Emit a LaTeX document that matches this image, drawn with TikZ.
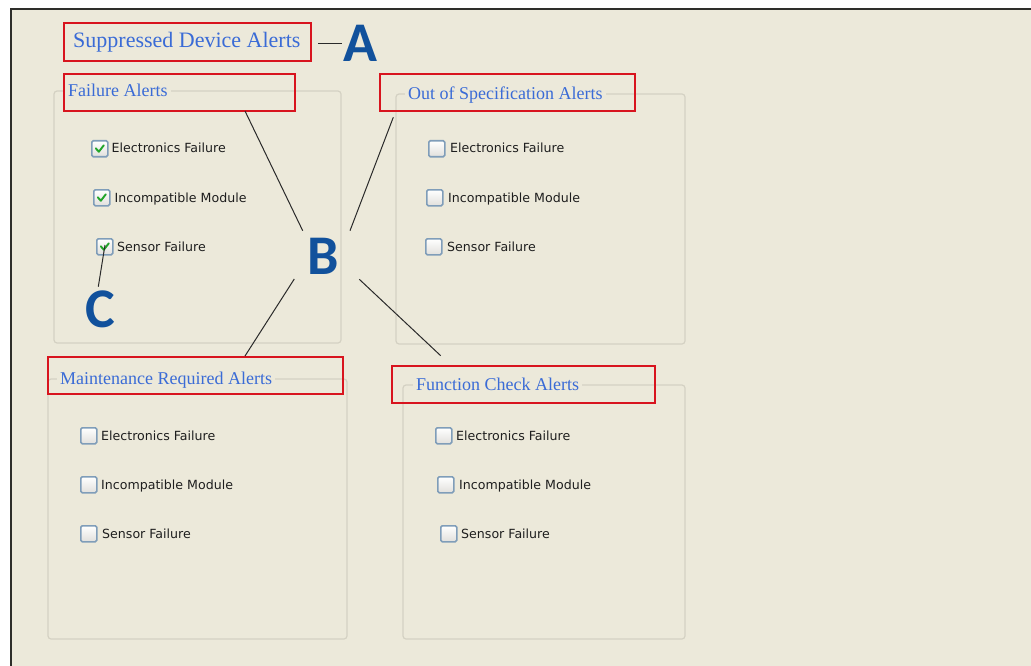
\documentclass[tikz,border=0pt]{standalone}
\usepackage{fontspec}
\setmainfont{Liberation Serif}
\newfontfamily\uifont{DejaVu Sans}
\newfontfamily\letterfont{Carlito}
\definecolor{bgc}{HTML}{ECE9DA}
\definecolor{framec}{HTML}{2E2E2A}
\definecolor{titleblue}{HTML}{3A6BD6}
\definecolor{letterblue}{HTML}{11519C}
\definecolor{redc}{HTML}{D8141E}
\definecolor{groupc}{HTML}{D4D1C3}
\definecolor{cbborder}{HTML}{7F9DB9}
\definecolor{cbfill}{HTML}{F2F1EC}
\definecolor{checkc}{HTML}{22A52A}
\definecolor{labelc}{HTML}{1E1E1E}
\definecolor{linec}{HTML}{2A2A2A}
\tikzset{
  groupbox/.style={draw=groupc, line width=1.2pt, rounded corners=3pt},
  redbox/.style={draw=redc, line width=2pt, inner sep=0pt, outer sep=0pt, anchor=north west},
  grouptitle/.style={anchor=base west, fill=bgc, inner xsep=3pt, inner ysep=0pt, text=titleblue, font=\fontsize{18}{18}\selectfont},
  cbox/.style={draw=cbborder, line width=1.6pt, top color=white, bottom color=cbfill!85!gray, rounded corners=1.5pt, minimum width=16pt, minimum height=16pt, inner sep=0pt, anchor=north west},
  cblabel/.style={anchor=base west, inner sep=0pt, text=labelc, font=\uifont\fontsize{12.6}{12.6}\selectfont},
  checkmark/.style={draw=checkc, line width=1.9pt, line cap=round, line join=round},
  letter/.style={text=letterblue, inner sep=0pt, font=\letterfont\bfseries\fontsize{56}{56}\selectfont},
  conn/.style={draw=linec, line width=1pt}
}
\begin{document}
\begin{tikzpicture}[x=1pt,y=-1pt]
\useasboundingbox (0,0) rectangle (1031,666);
\fill[white] (0,0) rectangle (1031,666);
\fill[bgc] (11,9) rectangle (1040,680);
\draw[framec, line width=2.5pt] (11,680) -- (11,9) -- (1040,9);

% group boxes
\draw[groupbox] (54,91) rectangle (341,343);
\draw[groupbox] (396,94) rectangle (685,344);
\draw[groupbox] (48,379) rectangle (347,639);
\draw[groupbox] (403,385) rectangle (685,639);

% group titles
\node[grouptitle] (tFail) at (65,96.5) {Failure Alerts};
\node[grouptitle] (tSpec) at (405,100) {Out of Specification Alerts};
\node[grouptitle] (tMaint) at (57,384.5) {Maintenance Required Alerts};
\node[grouptitle] (tFunc) at (413,390.5) {Function Check Alerts};

% main title
\node[anchor=base west, inner sep=0pt, text=titleblue, font=\fontsize{22}{22}\selectfont] (tMain) at (73,47.5) {Suppressed Device Alerts};

% red boxes
\node[redbox, minimum width=247pt, minimum height=38pt] (rMain) at (64,23) {};
\node[redbox, minimum width=231pt, minimum height=37pt] (rFail) at (64,74) {};
\node[redbox, minimum width=255pt, minimum height=37pt] (rSpec) at (380,74.5) {};
\node[redbox, minimum width=295pt, minimum height=37pt] (rMaint) at (48,357) {};
\node[redbox, minimum width=263pt, minimum height=37pt] (rFunc) at (392,366) {};

% checkboxes: Failure Alerts (checked)
\node[cbox] (f1) at (91,140) {};
\node[cbox] (f2) at (93,189) {};
\node[cbox] (f3) at (96,238) {};
\foreach \c in {f1,f2,f3}{
  \draw[checkmark] ([xshift=-4pt,yshift=0.5pt]\c.center) -- ([xshift=-1pt,yshift=-3pt]\c.center) -- ([xshift=4pt,yshift=3.5pt]\c.center);
}
\node[cblabel] (f1l) at (111.5,153) {Electronics Failure};
\node[cblabel] (f2l) at (114.5,202) {Incompatible Module};
\node[cblabel] (f3l) at (117,251) {Sensor Failure};

% Out of Specification
\node[cbox] (s1) at (428,140) {};
\node[cbox] (s2) at (426,189) {};
\node[cbox] (s3) at (425,238) {};
\node[cblabel] (s1l) at (450,153) {Electronics Failure};
\node[cblabel] (s2l) at (448,202) {Incompatible Module};
\node[cblabel] (s3l) at (447,251) {Sensor Failure};

% Maintenance Required
\node[cbox] (m1) at (80,427) {};
\node[cbox] (m2) at (80,476) {};
\node[cbox] (m3) at (80,525) {};
\node[cblabel] (m1l) at (101,440) {Electronics Failure};
\node[cblabel] (m2l) at (101,489) {Incompatible Module};
\node[cblabel] (m3l) at (102,538) {Sensor Failure};

% Function Check
\node[cbox] (c1) at (435,427) {};
\node[cbox] (c2) at (437,476) {};
\node[cbox] (c3) at (440,525) {};
\node[cblabel] (c1l) at (456,440) {Electronics Failure};
\node[cblabel] (c2l) at (459,489) {Incompatible Module};
\node[cblabel] (c3l) at (461,538) {Sensor Failure};

% callout letters
\node[letter] (A) at (360,43) {A};
\node[letter] (B) at (323.5,256) {B};
\node[letter] (C) at (100,309.5) {C};

% connectors
\coordinate (aS) at (318,43.5);
\coordinate (aE) at (341.5,43.5);
\draw[conn] (aS) -- (aE);

\coordinate (b1s) at (245,111);
\coordinate (b1e) at (302.7,230.7);
\coordinate (b2s) at (393.3,117.3);
\coordinate (b2e) at (350,230.7);
\coordinate (b3s) at (294.3,279);
\coordinate (b3e) at (245,356);
\coordinate (b4s) at (359.3,279.3);
\coordinate (b4e) at (440.7,355.7);
\draw[conn] (b1s) -- (b1e);
\draw[conn] (b2s) -- (b2e);
\draw[conn] (b3s) -- (b3e);
\draw[conn] (b4s) -- (b4e);

\coordinate (cs) at (105,245);
\coordinate (ce) at (98.3,286.7);
\draw[conn] (cs) -- (ce);
\end{tikzpicture}
\end{document}
